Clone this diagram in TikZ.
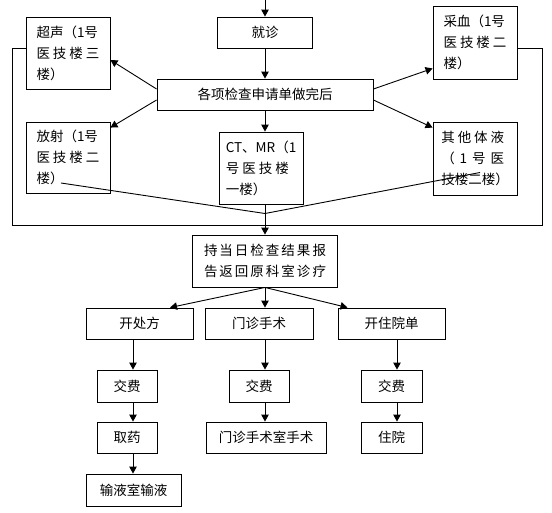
\documentclass[tikz,border=0pt]{standalone}
\usepackage{fontspec}
\setmainfont{Noto Sans CJK SC}
\usetikzlibrary{arrows.meta,calc}
\newcommand\jl[1]{\makebox[63pt]{#1}}
\tikzset{
  box/.style={draw, line width=0.9pt, inner sep=0pt, minimum height=31pt,
    font=\fontsize{13.5}{21}\selectfont, align=left},
  arr/.style={line width=0.9pt, -{Triangle[length=7pt,width=7.5pt]}},
  ln/.style={line width=0.9pt}
}
\begin{document}
\begin{tikzpicture}[x=1pt,y=-1pt]
\useasboundingbox (0,0) rectangle (552,512);
\fill[white] (0,0) rectangle (552,512);

\coordinate (top) at (265,0);
\coordinate (m) at (265,213.5);
\coordinate (bl) at (12,225);
\coordinate (br) at (542,225);
\coordinate (c1) at (133,0);
\coordinate (c2) at (265,0);
\coordinate (c3) at (397,0);

\node[box, minimum width=95] (jz) at (265,32.5) {就诊};
\node[box, minimum width=216] (gx) at (265,94.5) {各项检查申请单做完后};
\node[box, minimum width=84, minimum height=72] (cs) at (68,53)
  {超声（1号\\\jl{医\hfill 技\hfill 楼\hfill 三}\\楼）};
\node[box, minimum width=84, minimum height=71] (fs) at (68,157.5)
  {放射（1号\\\jl{医\hfill 技\hfill 楼\hfill 二}\\楼）};
\node[box, minimum width=84, minimum height=72] (ct) at (261,168)
  {CT、MR（1\\\jl{号\hfill 医\hfill 技\hfill 楼}\\一楼）};
\node[box, minimum width=84, minimum height=73] (cx) at (475,42.5)
  {采血（1号\\\jl{医\hfill 技\hfill 楼\hfill 二}\\楼）};
\node[box, minimum width=84, minimum height=73] (qt) at (475,158.5)
  {\jl{其\hfill 他\hfill 体\hfill 液}\\\jl{（\hfill 1\hfill 号\hfill 医}\\技楼二楼）};
\node[box, minimum width=145, minimum height=52] (cd) at (265,261)
  {\makebox[122pt]{持\hfill 当\hfill 日\hfill 检\hfill 查\hfill 结\hfill 果\hfill 报}\\\makebox[122pt]{告\hfill 返\hfill 回\hfill 原\hfill 科\hfill 室\hfill 诊\hfill 疗}};
\node[box, minimum width=107] (kc) at (139.5,323.5) {开处方};
\node[box, minimum width=108] (mz) at (259,323.5) {门诊手术};
\node[box, minimum width=107] (kz) at (391.5,323.5) {开住院单};
\node[box, minimum width=60, minimum height=32] (jf1) at (127,386) {交费};
\node[box, minimum width=60] (qy) at (127,437.5) {取药};
\node[box, minimum width=95, minimum height=32] (sy) at (133.5,490) {输液室输液};
\node[box, minimum width=60, minimum height=32] (jf2) at (259,386) {交费};
\node[box, minimum width=120] (mzs) at (266,437.5) {门诊手术室手术};
\node[box, minimum width=61, minimum height=32] (jf3) at (391.5,386) {交费};
\node[box, minimum width=61] (zy) at (391.5,437.5) {住院};

\draw[arr] (top) -- (jz.north);
\draw[arr] (jz.south) -- (gx.north);
\draw[arr] ($(gx.west)+(0,-5.5)$) -- ($(cs.east)+(0,7)$);
\draw[arr] ($(gx.west)+(0,5.5)$) -- ($(fs.north east)+(0,6)$);
\draw[arr] ($(gx.east)+(0,-5.5)$) -- ($(cx.south west)+(0,-11)$);
\draw[arr] ($(gx.east)+(0,5.5)$) -- ($(qt.north west)+(0,6)$);
\draw[arr] (gx.south -| m) -- (ct.north -| m);

\draw[ln] ($(cs.west)+(0,-5)$) -| (bl) -- (br) |- ($(cx.east)+(0,5.5)$);
\draw[ln] ($(fs.center)+(-7,25.5)$) -- (m) -- ($(qt.center)+(5,14)$);
\draw[arr] (ct.south -| m) -- (cd.north -| m);

\draw[arr] (cd.south) -- ($(kc.north)+(30.5,0)$);
\draw[arr] (cd.south) -- (cd.south |- mz.north);
\draw[arr] (cd.south) -- ($(kz.north)+(-44,0)$);

\draw[arr] (kc.south -| c1) -- (jf1.north -| c1);
\draw[arr] (jf1.south -| c1) -- (qy.north -| c1);
\draw[arr] (qy.south -| c1) -- (sy.north -| c1);
\draw[arr] (mz.south -| c2) -- (jf2.north -| c2);
\draw[arr] (jf2.south -| c2) -- (mzs.north -| c2);
\draw[arr] (kz.south -| c3) -- (jf3.north -| c3);
\draw[arr] (jf3.south -| c3) -- (zy.north -| c3);
\end{tikzpicture}
\end{document}
